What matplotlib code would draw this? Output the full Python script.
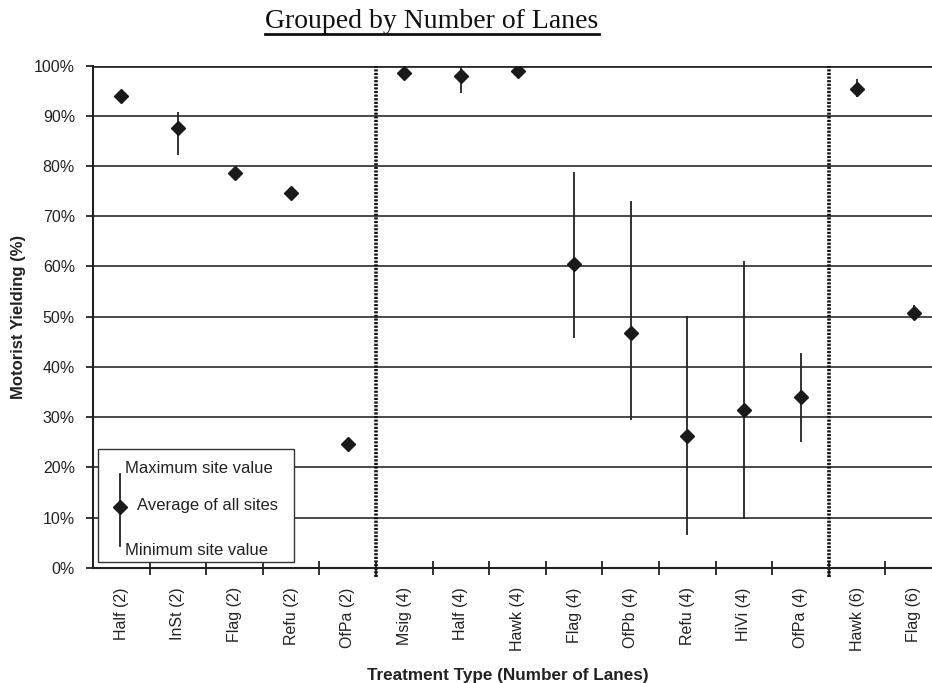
import numpy as np
import matplotlib.pyplot as plt
from matplotlib.ticker import FuncFormatter
from matplotlib.lines import Line2D

# treatment (number of lanes) and yielding values in %
labels = ["Half (2)", "InSt (2)", "Flag (2)", "Refu (2)", "OfPa (2)",
          "Msig (4)", "Half (4)", "Hawk (4)", "Flag (4)", "OfPb (4)",
          "Refu (4)", "HiVi (4)", "OfPa (4)", "Hawk (6)", "Flag (6)"]
avg = [94.0, 87.5, 78.6, 74.6, 24.6,
       98.6, 98.0, 99.0, 60.4, 46.7,
       26.2, 31.4, 34.0, 95.3, 50.8]
vmax = [np.nan, 90.7, np.nan, np.nan, np.nan,
        np.nan, 99.8, 100.0, 78.8, 73.0,
        50.2, 61.1, 42.8, 97.3, 52.4]
vmin = [np.nan, 82.3, np.nan, np.nan, np.nan,
        np.nan, 94.5, 99.0, 45.7, 29.4,
        6.6, 9.8, 25.1, 93.8, 49.6]
group_breaks = [5, 13]  # after OfPa (2) and OfPa (4)

plt.rcParams['font.family'] = ['Liberation Sans', 'DejaVu Sans']

fig = plt.figure(figsize=(9.32, 6.83), dpi=100)
ax = fig.add_axes([93/932, 1-567.7/683, 849/932, (567.7-65.7)/683])

x = np.arange(len(labels)) + 0.5
ax.set_xlim(0, len(labels))
ax.set_ylim(0, 100)

# grid
for yv in range(10, 101, 10):
    ax.axhline(yv, color='#2a2a2a', lw=1.2 if yv < 100 else 2.0, zorder=1)

# group separators
for b in group_breaks:
    ax.plot([b, b], [-1.8, 100], color='#111111', lw=2.6, linestyle=(0, (0.6, 0.4)),
            clip_on=False, zorder=2)

ax.vlines(x, vmin, vmax, color='#222222', lw=1.3, zorder=3)
ax.plot(x, avg, linestyle='none', marker='D', ms=7.3, color='#1a1a1a', zorder=4)

# axes styling
for s in ['top', 'right']:
    ax.spines[s].set_visible(False)
for s in ['left', 'bottom']:
    ax.spines[s].set_linewidth(1.5)
    ax.spines[s].set_color('#222222')

ax.set_yticks(range(0, 101, 10))
ax.yaxis.set_major_formatter(FuncFormatter(lambda v, p: f"{v:.0f}%"))
ax.tick_params(axis='y', direction='out', length=5, width=1.3, pad=8,
               labelsize=11.5, colors='#222222')

ax.set_xticks(np.arange(1, len(labels)))
ax.set_xticklabels([])
ax.tick_params(axis='x', which='major', direction='inout', length=10, width=1.3,
               colors='#222222')
ax.set_xticks(x, minor=True)
ax.set_xticklabels(labels, minor=True, rotation=90, fontsize=11.5, color='#222222')
ax.tick_params(axis='x', which='minor', length=0, pad=14)

ax.set_ylabel("Motorist Yielding (%)", fontsize=12, fontweight='bold', color='#222222')
ax.yaxis.set_label_coords(-0.079, 0.5)
ax.set_xlabel("Treatment Type (Number of Lanes)", fontsize=12.3, fontweight='bold',
              color='#222222')
ax.xaxis.set_label_coords((507.5-93)/849, -(668-567.7)/502)

# legend box drawn by hand
ax.add_patch(plt.Rectangle((0.0062, 0.0108), 0.2303, 0.2251, transform=ax.transAxes,
                           facecolor='white', edgecolor='#333333', lw=1.0, zorder=5))
ax.add_line(Line2D([0.0318, 0.0318], [0.043, 0.186], transform=ax.transAxes,
                   color='#222222', lw=1.3, zorder=6))
ax.add_line(Line2D([0.0318], [0.121], transform=ax.transAxes, marker='D', ms=7.3,
                   color='#1a1a1a', zorder=7))
ax.text(0.0377, 0.198, "Maximum site value", transform=ax.transAxes, fontsize=12,
        va='center', ha='left', color='#222222', zorder=7)
ax.text(0.0515, 0.123, "Average of all sites", transform=ax.transAxes, fontsize=12,
        va='center', ha='left', color='#222222', zorder=7)
ax.text(0.0377, 0.034, "Minimum site value", transform=ax.transAxes, fontsize=12,
        va='center', ha='left', color='#222222', zorder=7)

# underlined title
title = fig.text(432/932, 1-22/683, "Grouped by Number of Lanes", ha='center', va='center',
                 fontsize=20, family='Liberation Serif', color='#111111')
fig.canvas.draw()
bb = title.get_window_extent().transformed(fig.transFigure.inverted())
fig.add_artist(Line2D([bb.x0, bb.x1], [1-34/683, 1-34/683], transform=fig.transFigure,
                      color='#111111', lw=2.0))

fig.savefig("out.png", dpi=100)
